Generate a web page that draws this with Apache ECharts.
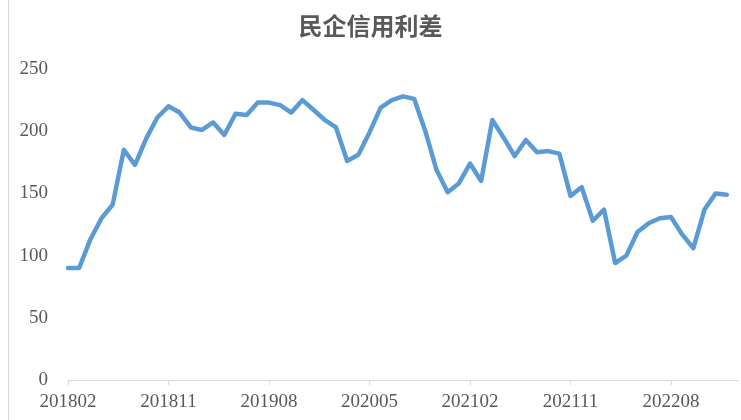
<!DOCTYPE html>
<html>
<head>
<meta charset="utf-8">
<script src="https://cdn.jsdelivr.net/npm/echarts@6/dist/echarts.min.js"></script>
<style>html,body{margin:0;padding:0;background:#fff;}#c{width:741px;height:420px;}</style>
</head>
<body>
<div id="c"></div>
<script>
var categories = [
'201802','201803','201804','201805','201806','201807','201808','201809','201810','201811','201812',
'201901','201902','201903','201904','201905','201906','201907','201908','201909','201910','201911','201912',
'202001','202002','202003','202004','202005','202006','202007','202008','202009','202010','202011','202012',
'202101','202102','202103','202104','202105','202106','202107','202108','202109','202110','202111','202112',
'202201','202202','202203','202204','202205','202206','202207','202208','202209','202210','202211','202212',
'202301','202302'
];
var spread = [
90,90,113,130,141,185,173,194,211,220,215,
203,201,207,197,214,213,223,223,221,215,225,217,
209,203,176,181,199,219,225,228,226,200,169,151,
158,174,160,209,195,180,193,183,184,182,148,155,
128,137,94,100,119,126,130,131,117,106,137,150,
149,null
];
var yTicks = {min:0, max:250, interval:50};
var title = '民企信用利差';

var chart = echarts.init(document.getElementById('c'), null, {renderer:'canvas'});
chart.setOption({
  animation:false,
  backgroundColor:'#ffffff',
  title:{text:title, left:'center', top:9,
    textStyle:{fontFamily:'Noto Sans CJK SC', fontSize:24, fontWeight:'bold', color:'#595959'}},
  grid:{left:68, right:3, top:69, bottom:40},
  xAxis:{type:'category', data:categories, boundaryGap:false,
    axisLine:{lineStyle:{color:'#d9d9d9', width:1}},
    axisTick:{show:true, interval:8, length:5, lineStyle:{color:'#d9d9d9'}},
    axisLabel:{interval:8, margin:13, color:'#595959', fontFamily:'Liberation Serif', fontSize:19},
    splitLine:{show:false}},
  yAxis:{type:'value', min:yTicks.min, max:yTicks.max, interval:yTicks.interval,
    axisLine:{show:false}, axisTick:{show:false}, splitLine:{show:false},
    axisLabel:{margin:20, color:'#595959', fontFamily:'Liberation Serif', fontSize:19}},
  graphic:[{type:'line', shape:{x1:8.5,y1:0,x2:8.5,y2:420}, style:{stroke:'#d9d9d9', lineWidth:1}}],
  series:[{type:'line', data:spread, showSymbol:false, symbol:'none', connectNulls:false,
    lineStyle:{color:'#5B9BD5', width:4.5, join:'round', cap:'round'}}]
});
</script>
</body>
</html>
